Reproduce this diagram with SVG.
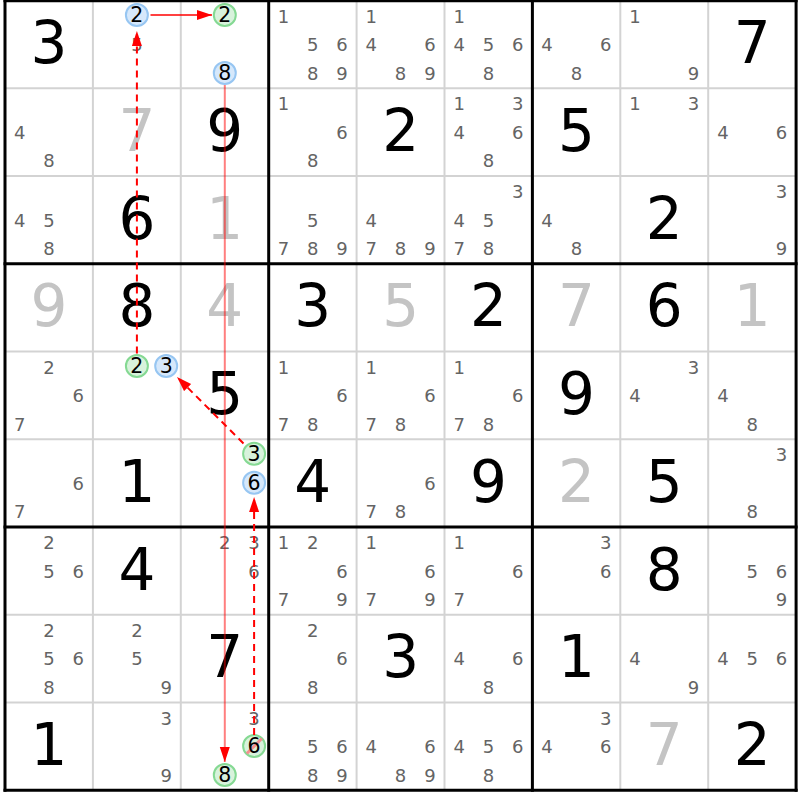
<svg xmlns="http://www.w3.org/2000/svg" width="800" height="800" viewBox="0 0 800 800">
<style>
text{font-family:"DejaVu Sans","Liberation Sans",sans-serif;text-anchor:middle}
.c{font-size:18px;fill:#646464}
.B{font-size:58px;fill:#000}
.G{fill:#c4c4c4}
.cc{font-size:20.5px;fill:#000}
.cb{fill:#d6e8fb;stroke:#97c6f2;stroke-width:2}
.cg{fill:#d8f2dc;stroke:#85d993;stroke-width:2}
.thin{stroke:#d3d3d3;stroke-width:2}
.thick{stroke:#000;stroke-width:3}
.ln{fill:none;stroke:#ff0000;stroke-width:1.5}
.dash{fill:none;stroke:#ff0000;stroke-width:2;stroke-dasharray:7,5}
.soft{fill:none;stroke:#ff0000;stroke-opacity:0.5;stroke-width:2}
</style>
<defs>
<marker id="ah" markerUnits="userSpaceOnUse" markerWidth="16" markerHeight="12" refX="15" refY="5" orient="auto"><path d="M0,0 L15,5 L0,10 z" fill="#ff0000"/></marker>
</defs>
<rect x="0" y="0" width="800" height="800" fill="#fff"/>
<g id="grid">
<g class="thin">
<line x1="92.9" y1="0.5" x2="92.9" y2="790.25"/><line x1="180.8" y1="0.5" x2="180.8" y2="790.25"/>
<line x1="356.6" y1="0.5" x2="356.6" y2="790.25"/><line x1="444.5" y1="0.5" x2="444.5" y2="790.25"/>
<line x1="620.3" y1="0.5" x2="620.3" y2="790.25"/><line x1="708.2" y1="0.5" x2="708.2" y2="790.25"/>
<line x1="5" y1="88.25" x2="796.1" y2="88.25"/><line x1="5" y1="176" x2="796.1" y2="176"/>
<line x1="5" y1="351.5" x2="796.1" y2="351.5"/><line x1="5" y1="439.25" x2="796.1" y2="439.25"/>
<line x1="5" y1="614.75" x2="796.1" y2="614.75"/><line x1="5" y1="702.5" x2="796.1" y2="702.5"/>
</g>
<g class="thick">
<line x1="5" y1="0" x2="5" y2="791.7"/><line x1="268.7" y1="0" x2="268.7" y2="791.7"/>
<line x1="532.4" y1="0" x2="532.4" y2="791.7"/><line x1="796.1" y1="0" x2="796.1" y2="791.7"/>
<line x1="3.5" y1="0.8" x2="797.6" y2="0.8"/><line x1="3.5" y1="263.75" x2="797.6" y2="263.75"/>
<line x1="3.5" y1="527" x2="797.6" y2="527"/><line x1="3.5" y1="790.25" x2="797.6" y2="790.25"/>
</g>
</g>

<!-- row 0 -->
<g id="r0c0" transform="translate(5,0.5)"><text class="B" x="44" y="62.5">3</text></g>
<g id="r0c1" transform="translate(92.9,0.5)"><text class="c" x="44" y="50.5">5</text><circle class="cb" cx="44" cy="14.5" r="11"/><text class="cc" x="44" y="21.8">2</text></g>
<g id="r0c2" transform="translate(180.8,0.5)"><circle class="cg" cx="44" cy="14.5" r="11"/><text class="cc" x="44" y="21.8">2</text><circle class="cb" cx="44" cy="72.5" r="11"/><text class="cc" x="44" y="79.8">8</text></g>
<g id="r0c3" transform="translate(268.7,0.5)"><text class="c" x="14.7" y="22">1</text><text class="c" x="44" y="50.5">5</text><text class="c" x="73.3" y="50.5">6</text><text class="c" x="44" y="79">8</text><text class="c" x="73.3" y="79">9</text></g>
<g id="r0c4" transform="translate(356.6,0.5)"><text class="c" x="14.7" y="22">1</text><text class="c" x="14.7" y="50.5">4</text><text class="c" x="73.3" y="50.5">6</text><text class="c" x="44" y="79">8</text><text class="c" x="73.3" y="79">9</text></g>
<g id="r0c5" transform="translate(444.5,0.5)"><text class="c" x="14.7" y="22">1</text><text class="c" x="14.7" y="50.5">4</text><text class="c" x="44" y="50.5">5</text><text class="c" x="73.3" y="50.5">6</text><text class="c" x="44" y="79">8</text></g>
<g id="r0c6" transform="translate(532.4,0.5)"><text class="c" x="14.7" y="50.5">4</text><text class="c" x="73.3" y="50.5">6</text><text class="c" x="44" y="79">8</text></g>
<g id="r0c7" transform="translate(620.3,0.5)"><text class="c" x="14.7" y="22">1</text><text class="c" x="73.3" y="79">9</text></g>
<g id="r0c8" transform="translate(708.2,0.5)"><text class="B" x="44" y="62.5">7</text></g>

<!-- row 1 -->
<g id="r1c0" transform="translate(5,88.25)"><text class="c" x="14.7" y="50.5">4</text><text class="c" x="44" y="79">8</text></g>
<g id="r1c1" transform="translate(92.9,88.25)"><text class="B G" x="44" y="62.5">7</text></g>
<g id="r1c2" transform="translate(180.8,88.25)"><text class="B" x="44" y="62.5">9</text></g>
<g id="r1c3" transform="translate(268.7,88.25)"><text class="c" x="14.7" y="22">1</text><text class="c" x="73.3" y="50.5">6</text><text class="c" x="44" y="79">8</text></g>
<g id="r1c4" transform="translate(356.6,88.25)"><text class="B" x="44" y="62.5">2</text></g>
<g id="r1c5" transform="translate(444.5,88.25)"><text class="c" x="14.7" y="22">1</text><text class="c" x="73.3" y="22">3</text><text class="c" x="14.7" y="50.5">4</text><text class="c" x="73.3" y="50.5">6</text><text class="c" x="44" y="79">8</text></g>
<g id="r1c6" transform="translate(532.4,88.25)"><text class="B" x="44" y="62.5">5</text></g>
<g id="r1c7" transform="translate(620.3,88.25)"><text class="c" x="14.7" y="22">1</text><text class="c" x="73.3" y="22">3</text></g>
<g id="r1c8" transform="translate(708.2,88.25)"><text class="c" x="14.7" y="50.5">4</text><text class="c" x="73.3" y="50.5">6</text></g>

<!-- row 2 -->
<g id="r2c0" transform="translate(5,176)"><text class="c" x="14.7" y="50.5">4</text><text class="c" x="44" y="50.5">5</text><text class="c" x="44" y="79">8</text></g>
<g id="r2c1" transform="translate(92.9,176)"><text class="B" x="44" y="62.5">6</text></g>
<g id="r2c2" transform="translate(180.8,176)"><text class="B G" x="44" y="62.5">1</text></g>
<g id="r2c3" transform="translate(268.7,176)"><text class="c" x="44" y="50.5">5</text><text class="c" x="14.7" y="79">7</text><text class="c" x="44" y="79">8</text><text class="c" x="73.3" y="79">9</text></g>
<g id="r2c4" transform="translate(356.6,176)"><text class="c" x="14.7" y="50.5">4</text><text class="c" x="14.7" y="79">7</text><text class="c" x="44" y="79">8</text><text class="c" x="73.3" y="79">9</text></g>
<g id="r2c5" transform="translate(444.5,176)"><text class="c" x="73.3" y="22">3</text><text class="c" x="14.7" y="50.5">4</text><text class="c" x="44" y="50.5">5</text><text class="c" x="14.7" y="79">7</text><text class="c" x="44" y="79">8</text></g>
<g id="r2c6" transform="translate(532.4,176)"><text class="c" x="14.7" y="50.5">4</text><text class="c" x="44" y="79">8</text></g>
<g id="r2c7" transform="translate(620.3,176)"><text class="B" x="44" y="62.5">2</text></g>
<g id="r2c8" transform="translate(708.2,176)"><text class="c" x="73.3" y="22">3</text><text class="c" x="73.3" y="79">9</text></g>

<!-- row 3 -->
<g id="r3c0" transform="translate(5,263.75)"><text class="B G" x="44" y="62.5">9</text></g>
<g id="r3c1" transform="translate(92.9,263.75)"><text class="B" x="44" y="62.5">8</text></g>
<g id="r3c2" transform="translate(180.8,263.75)"><text class="B G" x="44" y="62.5">4</text></g>
<g id="r3c3" transform="translate(268.7,263.75)"><text class="B" x="44" y="62.5">3</text></g>
<g id="r3c4" transform="translate(356.6,263.75)"><text class="B G" x="44" y="62.5">5</text></g>
<g id="r3c5" transform="translate(444.5,263.75)"><text class="B" x="44" y="62.5">2</text></g>
<g id="r3c6" transform="translate(532.4,263.75)"><text class="B G" x="44" y="62.5">7</text></g>
<g id="r3c7" transform="translate(620.3,263.75)"><text class="B" x="44" y="62.5">6</text></g>
<g id="r3c8" transform="translate(708.2,263.75)"><text class="B G" x="44" y="62.5">1</text></g>

<!-- row 4 -->
<g id="r4c0" transform="translate(5,351.5)"><text class="c" x="44" y="22">2</text><text class="c" x="73.3" y="50.5">6</text><text class="c" x="14.7" y="79">7</text></g>
<g id="r4c1" transform="translate(92.9,351.5)"><circle class="cg" cx="44" cy="14.5" r="11"/><text class="cc" x="44" y="21.8">2</text><circle class="cb" cx="73.3" cy="14.5" r="11"/><text class="cc" x="73.3" y="21.8">3</text></g>
<g id="r4c2" transform="translate(180.8,351.5)"><text class="B" x="44" y="62.5">5</text></g>
<g id="r4c3" transform="translate(268.7,351.5)"><text class="c" x="14.7" y="22">1</text><text class="c" x="73.3" y="50.5">6</text><text class="c" x="14.7" y="79">7</text><text class="c" x="44" y="79">8</text></g>
<g id="r4c4" transform="translate(356.6,351.5)"><text class="c" x="14.7" y="22">1</text><text class="c" x="73.3" y="50.5">6</text><text class="c" x="14.7" y="79">7</text><text class="c" x="44" y="79">8</text></g>
<g id="r4c5" transform="translate(444.5,351.5)"><text class="c" x="14.7" y="22">1</text><text class="c" x="73.3" y="50.5">6</text><text class="c" x="14.7" y="79">7</text><text class="c" x="44" y="79">8</text></g>
<g id="r4c6" transform="translate(532.4,351.5)"><text class="B" x="44" y="62.5">9</text></g>
<g id="r4c7" transform="translate(620.3,351.5)"><text class="c" x="73.3" y="22">3</text><text class="c" x="14.7" y="50.5">4</text></g>
<g id="r4c8" transform="translate(708.2,351.5)"><text class="c" x="14.7" y="50.5">4</text><text class="c" x="44" y="79">8</text></g>

<!-- row 5 -->
<g id="r5c0" transform="translate(5,439.25)"><text class="c" x="73.3" y="50.5">6</text><text class="c" x="14.7" y="79">7</text></g>
<g id="r5c1" transform="translate(92.9,439.25)"><text class="B" x="44" y="62.5">1</text></g>
<g id="r5c2" transform="translate(180.8,439.25)"><circle class="cg" cx="73.3" cy="14.5" r="11"/><text class="cc" x="73.3" y="21.8">3</text><circle class="cb" cx="73.3" cy="43.5" r="11"/><text class="cc" x="73.3" y="50.8">6</text></g>
<g id="r5c3" transform="translate(268.7,439.25)"><text class="B" x="44" y="62.5">4</text></g>
<g id="r5c4" transform="translate(356.6,439.25)"><text class="c" x="73.3" y="50.5">6</text><text class="c" x="14.7" y="79">7</text><text class="c" x="44" y="79">8</text></g>
<g id="r5c5" transform="translate(444.5,439.25)"><text class="B" x="44" y="62.5">9</text></g>
<g id="r5c6" transform="translate(532.4,439.25)"><text class="B G" x="44" y="62.5">2</text></g>
<g id="r5c7" transform="translate(620.3,439.25)"><text class="B" x="44" y="62.5">5</text></g>
<g id="r5c8" transform="translate(708.2,439.25)"><text class="c" x="73.3" y="22">3</text><text class="c" x="44" y="79">8</text></g>

<!-- row 6 -->
<g id="r6c0" transform="translate(5,527)"><text class="c" x="44" y="22">2</text><text class="c" x="44" y="50.5">5</text><text class="c" x="73.3" y="50.5">6</text></g>
<g id="r6c1" transform="translate(92.9,527)"><text class="B" x="44" y="62.5">4</text></g>
<g id="r6c2" transform="translate(180.8,527)"><text class="c" x="44" y="22">2</text><text class="c" x="73.3" y="22">3</text><text class="c" x="73.3" y="50.5">6</text></g>
<g id="r6c3" transform="translate(268.7,527)"><text class="c" x="14.7" y="22">1</text><text class="c" x="44" y="22">2</text><text class="c" x="73.3" y="50.5">6</text><text class="c" x="14.7" y="79">7</text><text class="c" x="73.3" y="79">9</text></g>
<g id="r6c4" transform="translate(356.6,527)"><text class="c" x="14.7" y="22">1</text><text class="c" x="73.3" y="50.5">6</text><text class="c" x="14.7" y="79">7</text><text class="c" x="73.3" y="79">9</text></g>
<g id="r6c5" transform="translate(444.5,527)"><text class="c" x="14.7" y="22">1</text><text class="c" x="73.3" y="50.5">6</text><text class="c" x="14.7" y="79">7</text></g>
<g id="r6c6" transform="translate(532.4,527)"><text class="c" x="73.3" y="22">3</text><text class="c" x="73.3" y="50.5">6</text></g>
<g id="r6c7" transform="translate(620.3,527)"><text class="B" x="44" y="62.5">8</text></g>
<g id="r6c8" transform="translate(708.2,527)"><text class="c" x="44" y="50.5">5</text><text class="c" x="73.3" y="50.5">6</text><text class="c" x="73.3" y="79">9</text></g>

<!-- row 7 -->
<g id="r7c0" transform="translate(5,614.75)"><text class="c" x="44" y="22">2</text><text class="c" x="44" y="50.5">5</text><text class="c" x="73.3" y="50.5">6</text><text class="c" x="44" y="79">8</text></g>
<g id="r7c1" transform="translate(92.9,614.75)"><text class="c" x="44" y="22">2</text><text class="c" x="44" y="50.5">5</text><text class="c" x="73.3" y="79">9</text></g>
<g id="r7c2" transform="translate(180.8,614.75)"><text class="B" x="44" y="62.5">7</text></g>
<g id="r7c3" transform="translate(268.7,614.75)"><text class="c" x="44" y="22">2</text><text class="c" x="73.3" y="50.5">6</text><text class="c" x="44" y="79">8</text></g>
<g id="r7c4" transform="translate(356.6,614.75)"><text class="B" x="44" y="62.5">3</text></g>
<g id="r7c5" transform="translate(444.5,614.75)"><text class="c" x="14.7" y="50.5">4</text><text class="c" x="73.3" y="50.5">6</text><text class="c" x="44" y="79">8</text></g>
<g id="r7c6" transform="translate(532.4,614.75)"><text class="B" x="44" y="62.5">1</text></g>
<g id="r7c7" transform="translate(620.3,614.75)"><text class="c" x="14.7" y="50.5">4</text><text class="c" x="73.3" y="79">9</text></g>
<g id="r7c8" transform="translate(708.2,614.75)"><text class="c" x="14.7" y="50.5">4</text><text class="c" x="44" y="50.5">5</text><text class="c" x="73.3" y="50.5">6</text></g>

<!-- row 8 -->
<g id="r8c0" transform="translate(5,702.5)"><text class="B" x="44" y="62.5">1</text></g>
<g id="r8c1" transform="translate(92.9,702.5)"><text class="c" x="73.3" y="22">3</text><text class="c" x="73.3" y="79">9</text></g>
<g id="r8c2" transform="translate(180.8,702.5)"><text class="c" x="73.3" y="22">3</text><circle class="cg" cx="73.3" cy="43.5" r="11"/><line x1="66" y1="51" x2="81" y2="36" stroke="#f29090" stroke-width="3"/><text class="cc" x="73.3" y="50.8">6</text><circle class="cg" cx="44" cy="72.5" r="11"/><text class="cc" x="44" y="79.8">8</text></g>
<g id="r8c3" transform="translate(268.7,702.5)"><text class="c" x="44" y="50.5">5</text><text class="c" x="73.3" y="50.5">6</text><text class="c" x="44" y="79">8</text><text class="c" x="73.3" y="79">9</text></g>
<g id="r8c4" transform="translate(356.6,702.5)"><text class="c" x="14.7" y="50.5">4</text><text class="c" x="73.3" y="50.5">6</text><text class="c" x="44" y="79">8</text><text class="c" x="73.3" y="79">9</text></g>
<g id="r8c5" transform="translate(444.5,702.5)"><text class="c" x="14.7" y="50.5">4</text><text class="c" x="44" y="50.5">5</text><text class="c" x="73.3" y="50.5">6</text><text class="c" x="44" y="79">8</text></g>
<g id="r8c6" transform="translate(532.4,702.5)"><text class="c" x="73.3" y="22">3</text><text class="c" x="14.7" y="50.5">4</text><text class="c" x="73.3" y="50.5">6</text></g>
<g id="r8c7" transform="translate(620.3,702.5)"><text class="B G" x="44" y="62.5">7</text></g>
<g id="r8c8" transform="translate(708.2,702.5)"><text class="B" x="44" y="62.5">2</text></g>

<g id="connectors">
<path class="ln" d="M150.5,15 H212" marker-end="url(#ah)"/>
<path class="dash" d="M136.9,353.5 V31" marker-end="url(#ah)"/>
<path class="soft" d="M224.8,85 V762" marker-end="url(#ah)"/>
<path class="dash" d="M243.5,443.5 L177,377" marker-end="url(#ah)"/>
<path class="dash" d="M254.1,735 V497" marker-end="url(#ah)"/>
</g>
</svg>
